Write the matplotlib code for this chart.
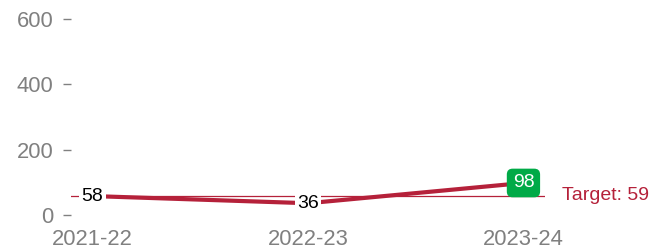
import matplotlib.pyplot as plt

plt.rcParams['font.family'] = ['Liberation Sans', 'DejaVu Sans']

years = ['2021-22', '2022-23', '2023-24']
values = [58, 36, 98]
target = 59

red = '#b5213a'
grey = '#808080'
green = '#00aa47'

fig = plt.figure(figsize=(6.65, 2.5), dpi=100)
ax = fig.add_axes([71 / 665, 35 / 250, (545 - 71) / 665, 196 / 250])

x = list(range(len(years)))
ax.axhline(target, color=red, lw=0.9, zorder=1)
ax.plot(x, values, color=red, lw=3, solid_capstyle='butt', zorder=2)

for i, v in enumerate(values):
    if i == len(values) - 1:
        ax.text(i, v, str(v), ha='center', va='center', fontsize=14, color='white', zorder=4,
                bbox=dict(boxstyle='round,pad=0.3,rounding_size=0.3', fc=green, ec='none'))
    else:
        ax.text(i, v, str(v), ha='center', va='center', fontsize=14, color='black', zorder=4,
                bbox=dict(boxstyle='square,pad=0.12', fc='white', ec='none'))

ax.text(1.035, target, 'Target: 59', transform=ax.get_yaxis_transform(), ha='left', va='center',
        fontsize=14, color=red, clip_on=False)

ax.set_xlim(-0.1, 2.1)
ax.set_ylim(0, 600)
ax.set_yticks([0, 200, 400, 600])
ax.set_xticks(x)
ax.set_xticklabels(years)
for s in ax.spines.values():
    s.set_visible(False)
ax.tick_params(axis='y', length=5.5, width=1, color=grey, labelcolor=grey, labelsize=15.8, pad=7)
ax.tick_params(axis='x', length=0, labelcolor=grey, labelsize=15.8, pad=10)

fig.savefig('out.png', dpi=100)
